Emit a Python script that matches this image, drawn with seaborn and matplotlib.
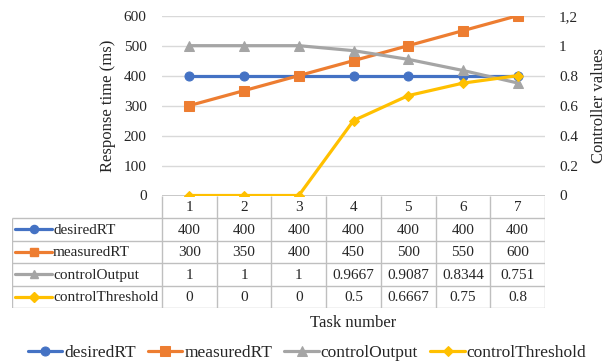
import matplotlib
matplotlib.use("Agg")
import matplotlib.pyplot as plt
import seaborn as sns

sns.set_theme(style="white")
plt.rcParams['font.family'] = ['Liberation Serif', 'DejaVu Serif']

# data
tasks = [1, 2, 3, 4, 5, 6, 7]
desired_rt = [400, 400, 400, 400, 400, 400, 400]
measured_rt = [300, 350, 400, 450, 500, 550, 600]
control_output = [1, 1, 1, 0.9667, 0.9087, 0.8344, 0.751]
control_threshold = [0, 0, 0, 0.5, 0.6667, 0.75, 0.8]

left_ticks = [0, 100, 200, 300, 400, 500, 600]
right_ticks = [0, 0.2, 0.4, 0.6, 0.8, 1.0, 1.2]
right_ticklabels = ['0', '0.2', '0.4', '0.6', '0.8', '1', '1,2']

series = [
    ("desiredRT", desired_rt, "#4472C4", "o", 6.5, "left"),
    ("measuredRT", measured_rt, "#ED7D31", "s", 6.5, "left"),
    ("controlOutput", control_output, "#A5A5A5", "^", 7, "right"),
    ("controlThreshold", control_threshold, "#FFC000", "D", 5.5, "right"),
]

W, H = 613, 364
fig = plt.figure(figsize=(W / 100, H / 100), dpi=100)

# plot area in pixels
x0, x1, ytop, ybot = 162, 545, 15.7, 195.5
ax = fig.add_axes([x0 / W, 1 - ybot / H, (x1 - x0) / W, (ybot - ytop) / H])
ax2 = ax.twinx()

fs = 11
txt_c = "#262626"
grid_c = "#D9D9D9"
tab_c = "#BFBFBF"

handles = []
for name, vals, col, mk, ms, side in series:
    target = ax if side == "left" else ax2
    sns.lineplot(x=tasks, y=vals, ax=target, color=col, marker=mk, markersize=ms,
                 markeredgecolor=col, linewidth=2.3, legend=False)
    handles.append(target.lines[-1])

ax.set_xlim(0.5, 7.5)
ax.set_ylim(0, 600)
ax2.set_ylim(0, 1.2)
ax.set_yticks(left_ticks)
ax.set_yticklabels([str(t) for t in left_ticks], fontsize=fs)
ax2.set_yticks(right_ticks)
ax2.set_yticklabels(right_ticklabels, fontsize=fs)
ax.tick_params(axis='y', length=0, pad=11, colors=txt_c)
ax2.tick_params(axis='y', length=0, pad=10, colors=txt_c)
ax.set_xticks([])
ax.set_xlabel("")
for a in (ax, ax2):
    for s in a.spines.values():
        s.set_visible(False)
ax.grid(False)
ax2.grid(False)
for t in left_ticks[1:]:
    ax.axhline(t, color=grid_c, linewidth=1, zorder=0)
ax.axhline(0, color=tab_c, linewidth=1.2, zorder=0)

ax.set_ylabel("Response time (ms)", fontsize=fs + 1, labelpad=6, color=txt_c)
ax2.set_ylabel("Controller values", fontsize=fs + 1, labelpad=9, color=txt_c)

# data table under the axis
col_w = (x1 - x0) / 7
tab_left, tab_bot = 12, 308
tax = fig.add_axes([tab_left / W, 1 - tab_bot / H, (x1 - tab_left) / W, (tab_bot - ybot) / H])
lx = 0.5 - (x0 - tab_left) / col_w
tax.set_xlim(lx, 7.5)
tax.set_ylim(5, 0)
tax.axis("off")


def px2x(px):
    return 0.5 - (x0 - px) / col_w


for r in range(1, 6):
    tax.hlines(r, lx, 7.5, color=tab_c, linewidth=1)
tax.vlines(lx, 1, 5, color=tab_c, linewidth=1)
for k in range(8):
    tax.vlines(0.5 + k, 0, 5, color=tab_c, linewidth=1)

for t in tasks:
    tax.text(t, 0.55, str(t), ha="center", va="center", fontsize=fs, color=txt_c)

for r, (name, vals, col, mk, ms, side) in enumerate(series, start=1):
    yc = r + 0.5
    tax.plot([px2x(15), px2x(52)], [yc, yc], color=col, linewidth=2.3)
    tax.plot([px2x(33.5)], [yc], color=col, marker=mk, markersize=ms * 0.9, markeredgecolor=col)
    tax.text(px2x(53), yc + 0.05, name, ha="left", va="center", fontsize=fs, color=txt_c)
    for t, v in zip(tasks, vals):
        tax.text(t, yc + 0.05, f"{v:g}", ha="center", va="center", fontsize=fs, color=txt_c)

fig.text((x0 + x1) / 2 / W, 1 - 323 / H, "Task number", ha="center", va="center",
         fontsize=fs + 1, color=txt_c)

leg = fig.legend(handles, [s[0] for s in series], loc="center", ncol=4,
                 bbox_to_anchor=(307 / W, 1 - 353 / H), frameon=False,
                 fontsize=12.5, handlelength=2.0, columnspacing=0.7, handletextpad=0.1,
                 borderpad=0)
for t in leg.get_texts():
    t.set_color(txt_c)

fig.savefig("out.png", dpi=100)
